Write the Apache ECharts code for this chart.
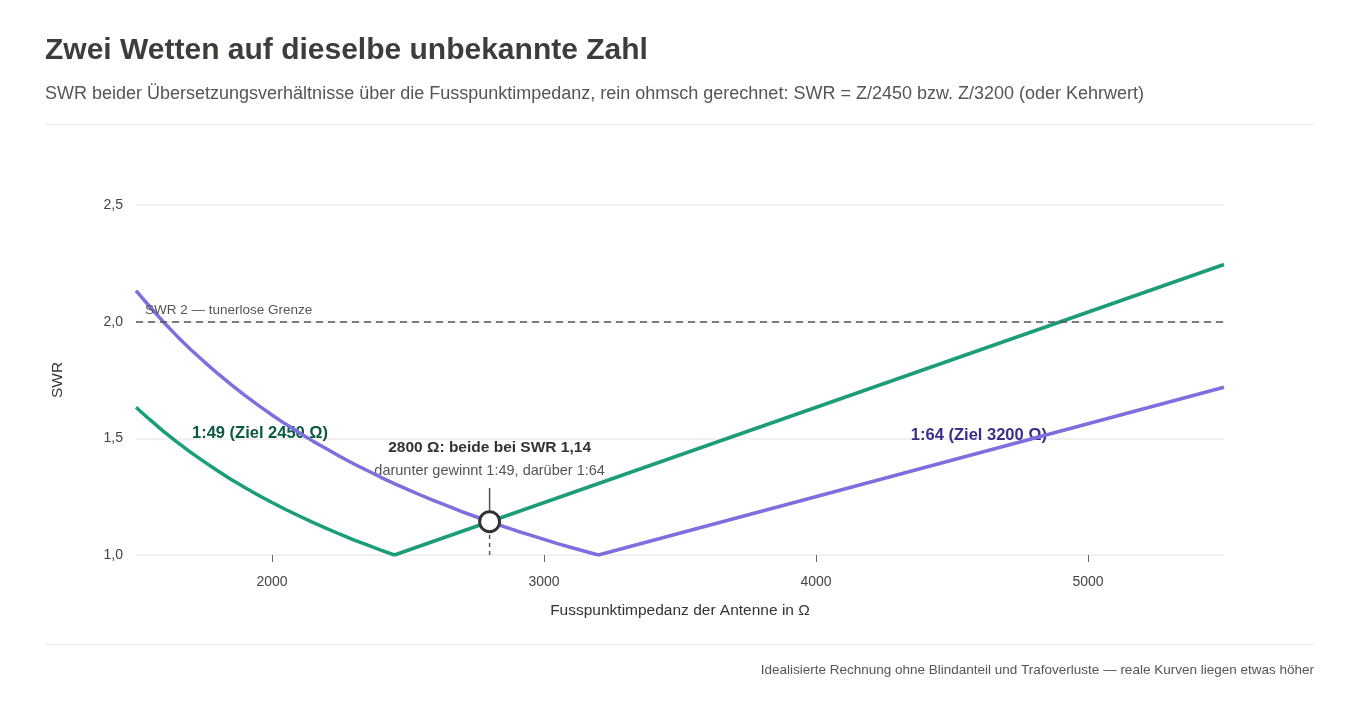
<!DOCTYPE html>
<html>
<head>
<meta charset="utf-8">
<script src="https://cdn.jsdelivr.net/npm/echarts@6/dist/echarts.min.js"></script>
<style>
  html, body { margin: 0; padding: 0; background: #fff; }
  #chart { width: 1360px; height: 703px; }
</style>
</head>
<body>
<div id="chart"></div>
<script>
// Fusspunktimpedanz (Ohm) und SWR-Werte
var z49 = [1500, 1550, 1600, 1650, 1700, 1750, 1800, 1850, 1900, 1950, 2000, 2050, 2100, 2150, 2200, 2250, 2300, 2350, 2400, 2450, 5500];
var swr49 = [1.633, 1.581, 1.531, 1.485, 1.441, 1.4, 1.361, 1.324, 1.289, 1.256, 1.225, 1.195, 1.167, 1.14, 1.114, 1.089, 1.065, 1.043, 1.021, 1.0, 2.245];

var z64 = [1500, 1550, 1600, 1650, 1700, 1750, 1800, 1850, 1900, 1950, 2000, 2050, 2100, 2150, 2200, 2250, 2300, 2350, 2400, 2450, 2500, 2550, 2600, 2650, 2700, 2750, 2800, 2850, 2900, 2950, 3000, 3050, 3100, 3150, 3200, 5500];
var swr64 = [2.133, 2.065, 2.0, 1.939, 1.882, 1.829, 1.778, 1.73, 1.684, 1.641, 1.6, 1.561, 1.524, 1.488, 1.455, 1.422, 1.391, 1.362, 1.333, 1.306, 1.28, 1.255, 1.231, 1.208, 1.185, 1.164, 1.143, 1.123, 1.103, 1.085, 1.067, 1.049, 1.032, 1.016, 1.0, 1.719];

var crossZ = 2800;
var crossSwr = 1.143;
var limitSwr = 2;

var xTicks = [2000, 3000, 4000, 5000];
var yTicks = [1.0, 1.5, 2.0, 2.5];

var green = '#1b9e77';
var purple = '#7d70de';

function pairs(xs, ys) {
    return xs.map(function (x, i) { return [x, ys[i]]; });
}

var chart = echarts.init(document.getElementById('chart'));
var font = 'Liberation Sans, Arial, Helvetica, sans-serif';

var option = {
    animation: false,
    textStyle: { fontFamily: font },
    title: [
        {
            text: 'Zwei Wetten auf dieselbe unbekannte Zahl',
            left: 40, top: 31,
            textStyle: { fontSize: 30, fontWeight: 'bold', color: '#3d3d3a', fontFamily: font }
        },
        {
            text: 'SWR beider Übersetzungsverhältnisse über die Fusspunktimpedanz, rein ohmsch gerechnet: SWR = Z/2450 bzw. Z/3200 (oder Kehrwert)',
            left: 40, top: 80,
            textStyle: { fontSize: 18, fontWeight: 'normal', color: '#555', fontFamily: font }
        },
        {
            text: 'Idealisierte Rechnung ohne Blindanteil und Trafoverluste — reale Kurven liegen etwas höher',
            right: 41, top: 658,
            textStyle: { fontSize: 13.5, fontWeight: 'normal', color: '#555', fontFamily: font }
        }
    ],
    graphic: [
        { type: 'line', shape: { x1: 45, y1: 124.5, x2: 1314, y2: 124.5 }, style: { stroke: '#eeede9', lineWidth: 1.5 } },
        { type: 'line', shape: { x1: 45, y1: 644.5, x2: 1314, y2: 644.5 }, style: { stroke: '#eeede9', lineWidth: 1.5 } }
    ],
    grid: { left: 136, right: 136, top: 205, bottom: 148 },
    xAxis: {
        type: 'value',
        min: 1500,
        max: 5500,
        name: 'Fusspunktimpedanz der Antenne in Ω',
        nameLocation: 'middle',
        nameGap: 48,
        nameTextStyle: { fontSize: 15.5, color: '#333' },
        axisLine: { show: false },
        axisTick: { show: true, customValues: xTicks, length: 7, lineStyle: { color: '#666' } },
        axisLabel: {
            customValues: xTicks, fontSize: 14, color: '#444', margin: 20,
            formatter: function (v) { return String(v); }
        },
        splitLine: { show: false }
    },
    yAxis: {
        type: 'value',
        min: 1,
        max: 2.5,
        interval: 0.5,
        name: 'SWR',
        nameLocation: 'middle',
        nameGap: 70,
        nameTextStyle: { fontSize: 15.5, color: '#333' },
        axisLine: { show: false },
        axisTick: { show: false },
        axisLabel: {
            fontSize: 14, color: '#444', margin: 13,
            formatter: function (v) { return v.toFixed(1).replace('.', ','); }
        },
        splitLine: { lineStyle: { color: '#efede8', width: 1.5 } }
    },
    series: [
        {
            name: '1:49',
            type: 'line',
            data: pairs(z49, swr49),
            showSymbol: false,
            lineStyle: { color: green, width: 3.5 },
            itemStyle: { color: green },
            z: 3,
            markLine: {
                silent: true,
                symbol: 'none',
                lineStyle: { color: '#555', type: [7, 5], width: 1.5 },
                label: {
                    show: true,
                    position: 'insideStartTop',
                    formatter: 'SWR 2 — tunerlose Grenze',
                    fontSize: 13.5,
                    color: '#555',
                    distance: [9, 4]
                },
                data: [{ yAxis: limitSwr }]
            }
        },
        {
            name: '1:64',
            type: 'line',
            data: pairs(z64, swr64),
            showSymbol: false,
            lineStyle: { color: purple, width: 3.5 },
            itemStyle: { color: purple },
            z: 3
        },
        {
            // Hilfslinie unter dem Schnittpunkt
            type: 'line',
            data: [[crossZ, 1], [crossZ, crossSwr]],
            showSymbol: false,
            silent: true,
            lineStyle: { color: '#555', width: 1.5, type: [4, 4] },
            z: 4
        },
        {
            // Hilfslinie über dem Schnittpunkt
            type: 'line',
            data: [[crossZ, crossSwr], [crossZ, 1.287]],
            showSymbol: false,
            silent: true,
            lineStyle: { color: '#555', width: 1.5 },
            z: 4
        },
        {
            type: 'scatter',
            data: [[crossZ, crossSwr]],
            symbolSize: 20,
            silent: true,
            itemStyle: { color: '#ffffff', borderColor: '#333', borderWidth: 3, opacity: 1 },
            z: 6
        },
        {
            type: 'scatter',
            symbolSize: 0,
            silent: true,
            itemStyle: { opacity: 1 },
            z: 2,
            data: [
                {
                    value: [crossZ, 1.30],
                    label: {
                        show: true,
                        position: 'top',
                        distance: 3,
                        align: 'center',
                        formatter: '{a|2800 Ω: beide bei SWR 1,14}\n{b|darunter gewinnt 1:49, darüber 1:64}',
                        rich: {
                            a: { fontSize: 15.5, fontWeight: 'bold', color: '#333', lineHeight: 24, align: 'center' },
                            b: { fontSize: 14.5, color: '#555', lineHeight: 22, align: 'center' }
                        }
                    }
                },
                {
                    value: [1956, 1.523],
                    label: {
                        show: true, position: 'inside',
                        formatter: '1:49 (Ziel 2450 Ω)',
                        fontSize: 16.5, fontWeight: 'bold', color: '#0b5a42',
                        textBorderWidth: 0
                    }
                },
                {
                    value: [4599, 1.514],
                    label: {
                        show: true, position: 'inside',
                        formatter: '1:64 (Ziel 3200 Ω)',
                        fontSize: 16.5, fontWeight: 'bold', color: '#3a2d8b',
                        textBorderWidth: 0
                    }
                }
            ]
        }
    ]
};

chart.setOption(option);
</script>
</body>
</html>
